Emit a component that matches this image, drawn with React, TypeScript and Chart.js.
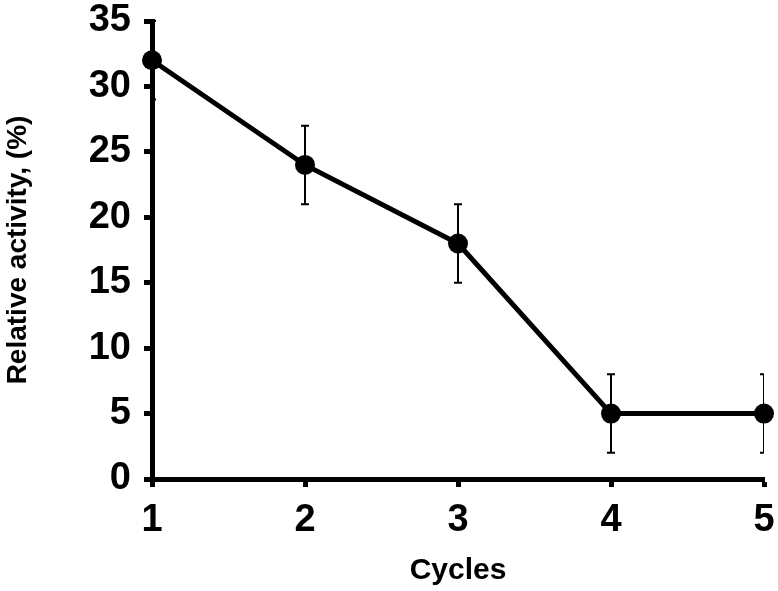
import React, { useEffect, useRef } from "react";
import { Chart, registerables } from "chart.js";

Chart.register(...registerables);

const cycles = [1, 2, 3, 4, 5];
const activity = [32, 24, 18, 5, 5];
const errors = [3, 3, 3, 3, 3];
const yTicks = [0, 5, 10, 15, 20, 25, 30, 35];
const xTitle = "Cycles";
const yTitle = "Relative activity, (%)";

const FONT = "'Liberation Sans', Arial, sans-serif";

const errorBarPlugin = {
  id: "errorBars",
  afterDatasetsDraw(chart: any) {
    const { ctx, chartArea, scales } = chart;
    const meta = chart.getDatasetMeta(0);
    ctx.save();
    ctx.beginPath();
    ctx.rect(chartArea.left, 0, chartArea.right - chartArea.left, chart.height);
    ctx.clip();
    ctx.strokeStyle = "#000";
    ctx.lineWidth = 2;
    meta.data.forEach((pt: any, i: number) => {
      const x = pt.x;
      const yTop = scales.y.getPixelForValue(activity[i] + errors[i]);
      const yBot = scales.y.getPixelForValue(activity[i] - errors[i]);
      ctx.beginPath();
      ctx.moveTo(x, yTop);
      ctx.lineTo(x, yBot);
      ctx.moveTo(x - 4, yTop);
      ctx.lineTo(x + 4, yTop);
      ctx.moveTo(x - 4, yBot);
      ctx.lineTo(x + 4, yBot);
      ctx.stroke();
    });
    ctx.restore();
  },
};

export default function App() {
  const ref = useRef<HTMLCanvasElement | null>(null);
  useEffect(() => {
    if (!ref.current) return;
    const chart = new Chart(ref.current, {
      type: "line",
      data: {
        datasets: [
          {
            data: cycles.map((c, i) => ({ x: c, y: activity[i] })),
            borderColor: "#000",
            backgroundColor: "#000",
            borderWidth: 5,
            pointRadius: 10,
            pointBackgroundColor: "#000",
            pointBorderWidth: 0,
            tension: 0,
            clip: false as any,
          },
        ],
      },
      options: {
        animation: false,
        responsive: true,
        maintainAspectRatio: false,
        layout: { padding: { top: 21, right: 14, bottom: 0, left: 0 } },
        plugins: { legend: { display: false }, tooltip: { enabled: false } },
        scales: {
          x: {
            type: "linear",
            min: 1,
            max: 5,
            afterFit: (s: any) => {
              s.height = 112;
              s.paddingLeft = 0;
              s.paddingRight = 0;
            },
            ticks: {
              stepSize: 1,
              padding: 11,
              color: "#000",
              font: { family: FONT, size: 38, weight: "bold" },
              callback: (v: any) => String(v),
            },
            grid: {
              drawOnChartArea: false,
              drawTicks: true,
              tickLength: 8,
              tickColor: "#000",
              tickWidth: 5,
            },
            border: { display: true, color: "#000", width: 5 },
            title: {
              display: true,
              text: xTitle,
              color: "#000",
              font: { family: FONT, size: 30, weight: "bold" },
              padding: { top: 0, bottom: 2 },
            },
          },
          y: {
            min: 0,
            max: 35,
            afterFit: (s: any) => {
              s.width = 152;
              s.paddingTop = 0;
              s.paddingBottom = 0;
            },
            afterBuildTicks: (s: any) => {
              s.ticks = yTicks.map((v) => ({ value: v }));
            },
            ticks: {
              padding: 13,
              color: "#000",
              font: { family: FONT, size: 38, weight: "bold" },
            },
            grid: {
              drawOnChartArea: false,
              drawTicks: true,
              tickLength: 8,
              tickColor: "#000",
              tickWidth: 5,
            },
            border: { display: true, color: "#000", width: 5 },
            title: {
              display: true,
              text: yTitle,
              color: "#000",
              font: { family: FONT, size: 28, weight: "bold" },
              padding: { top: 1, bottom: 0 },
            },
          },
        },
      },
      plugins: [errorBarPlugin],
    });
    return () => chart.destroy();
  }, []);
  return (
    <div style={{ position: "fixed", left: 0, top: 0, width: 778, height: 591, background: "#fff" }}>
      <canvas ref={ref} />
    </div>
  );
}
